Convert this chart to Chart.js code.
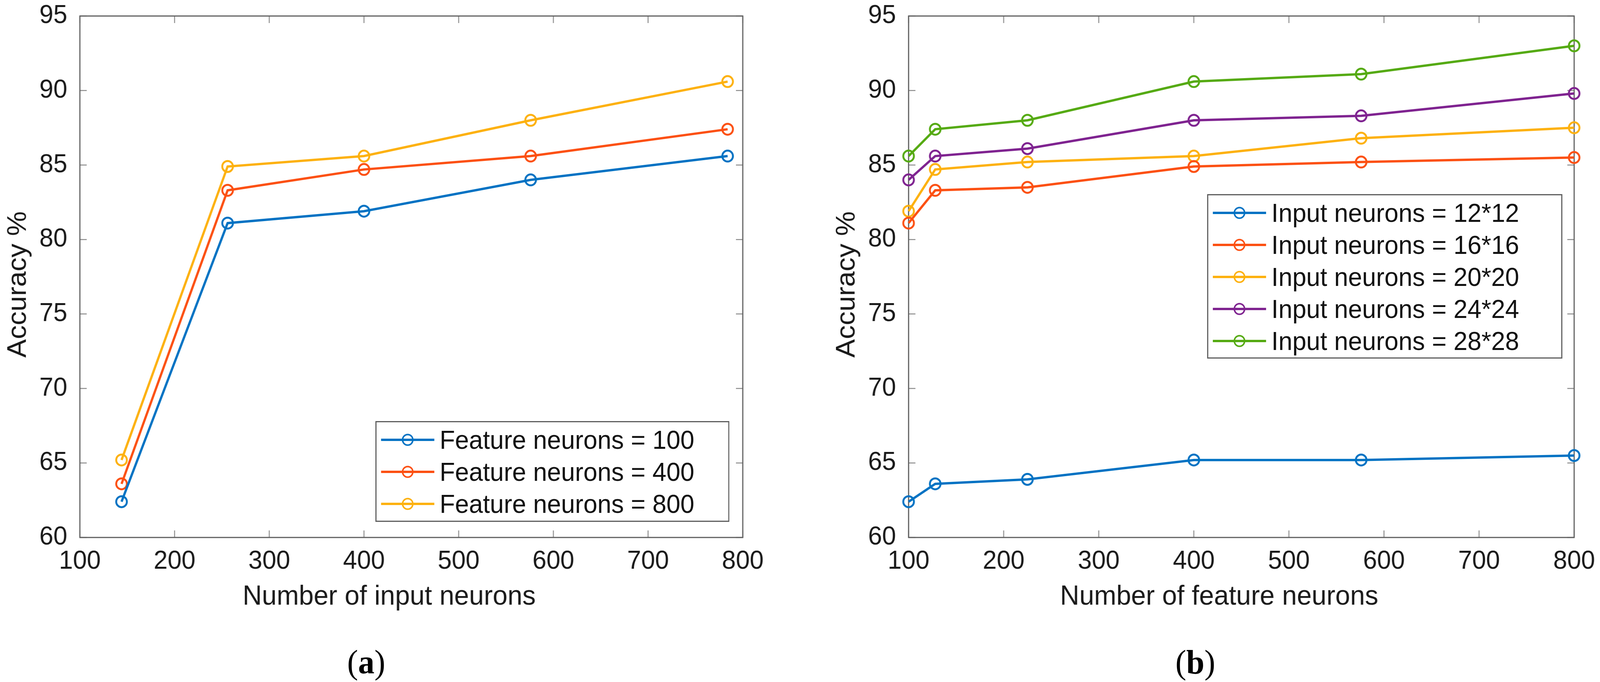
<!DOCTYPE html>
<html>
<head>
<meta charset="utf-8">
<title>Accuracy vs neurons</title>
<script src="https://cdn.jsdelivr.net/npm/chart.js@4.4.1/dist/chart.umd.min.js"></script>
<style>
	body {
		margin: 0;
		overflow: hidden;
		background: #fff;
		font-family: "Liberation Sans", Arial, sans-serif;
	}
	#figure {
		position: relative;
		width: 4207px;
		height: 1746px;
		transform-origin: 0 0;
	}
	canvas {
		position: absolute;
		top: 0;
	}
	#chartA {
		left: 0;
	}
	#chartB {
		left: 2179px;
	}
	.legend {
		position: absolute;
		box-sizing: border-box;
		border: 3px solid #5e5e5e;
		background: #fff;
		padding-top: 4px;
		z-index: 2;
	}
	#legendA {
		left: 987px;
		top: 1078px;
		width: 931px;
		height: 258px;
	}
	#legendB {
		left: 3174px;
		top: 497px;
		width: 934px;
		height: 421px;
	}
	.legend .row {
		display: flex;
		align-items: center;
		height: 82px;
	}
	.legend .key {
		position: relative;
		width: 140px;
		height: 6px;
		margin-left: 12px;
	}
	.legend .dot {
		position: absolute;
		left: 70px;
		top: 50%;
		box-sizing: border-box;
		width: 31px;
		height: 31px;
		border: 4.5px solid;
		border-radius: 50%;
		transform: translate( -50%, -50% );
	}
	.legend .txt {
		margin-left: 14px;
		font-size: 66px;
		line-height: 1;
		color: #111;
		white-space: nowrap;
	}
	.caption {
		position: absolute;
		top: 1652px;
		width: 300px;
		text-align: center;
		font-family: "Liberation Serif", "Times New Roman", serif;
		font-size: 86px;
		line-height: 1;
		color: #000;
	}
</style>
</head>
<body>
<div id="figure">
	<canvas id="chartA" width="2080" height="1600"></canvas>
	<canvas id="chartB" width="2028" height="1600"></canvas>
	<div class="legend" id="legendA"></div>
	<div class="legend" id="legendB"></div>
	<div class="caption" style="left: 813px;">(<b>a</b>)</div>
	<div class="caption" style="left: 2993px;">(<b>b</b>)</div>
</div>

<script>
// Panel (a): x = number of input neurons
const inputNeurons = [ 144, 256, 400, 576, 784 ];
const accFeature100 = [ 62.4, 81.1, 81.9, 84.0, 85.6 ];
const accFeature400 = [ 63.6, 83.3, 84.7, 85.6, 87.4 ];
const accFeature800 = [ 65.2, 84.9, 85.6, 88.0, 90.6 ];

// Panel (b): x = number of feature neurons
const featureNeurons = [ 100, 128, 225, 400, 576, 800 ];
const accInput12 = [ 62.4, 63.6, 63.9, 65.2, 65.2, 65.5 ];
const accInput16 = [ 81.1, 83.3, 83.5, 84.9, 85.2, 85.5 ];
const accInput20 = [ 81.9, 84.7, 85.2, 85.6, 86.8, 87.5 ];
const accInput24 = [ 84.0, 85.6, 86.1, 88.0, 88.3, 89.8 ];
const accInput28 = [ 85.6, 87.4, 88.0, 90.6, 91.1, 93.0 ];

// Axis ticks
const xTickValues = [ 100, 200, 300, 400, 500, 600, 700, 800 ];
const yTickValues = [ 60, 65, 70, 75, 80, 85, 90, 95 ];

const colors = {
	blue: '#0072C3',
	orange: '#FC5012',
	yellow: '#FDB10F',
	purple: '#7F2390',
	green: '#55AA12',
};

// The figure is laid out at 4207px wide; squeeze it into the real viewport.
const figureEl = document.getElementById( 'figure' );
const fitX = Math.min( 1, window.innerWidth / 4207 );
figureEl.style.transform = 'scaleX(' + fitX + ')';

Chart.defaults.font.family = '"Liberation Sans", Arial, sans-serif';
Chart.defaults.color = '#1a1a1a';

// MATLAB style box with inward ticks on all four sides
const axesBox = {
	id: 'axesBox',
	beforeDatasetsDraw( chart ) {
		const { ctx, chartArea: area, scales } = chart;
		const len = 18;
		ctx.save();
		ctx.strokeStyle = '#8c8c8c';
		ctx.lineWidth = 2.5;
		ctx.beginPath();
		scales.x.ticks.forEach( ( tick ) => {
			const px = scales.x.getPixelForValue( tick.value );
			ctx.moveTo( px, area.bottom );
			ctx.lineTo( px, area.bottom - len );
			ctx.moveTo( px, area.top );
			ctx.lineTo( px, area.top + len );
		} );
		scales.y.ticks.forEach( ( tick ) => {
			const py = scales.y.getPixelForValue( tick.value );
			ctx.moveTo( area.left, py );
			ctx.lineTo( area.left + len, py );
			ctx.moveTo( area.right, py );
			ctx.lineTo( area.right - len, py );
		} );
		ctx.stroke();
		ctx.strokeStyle = '#5e5e5e';
		ctx.lineWidth = 3;
		ctx.strokeRect( area.left, area.top, area.width, area.height );
		ctx.restore();
	},
};

// keep the plot box where the layout padding puts it
function noOverflow( scale ) {
	scale.paddingTop = 0;
	scale.paddingBottom = 0;
	scale.paddingLeft = 0;
	scale.paddingRight = 0;
}

function makeDataset( label, xs, ys, color ) {
	return {
		label,
		data: xs.map( ( x, i ) => ( { x, y: ys[ i ] } ) ),
		borderColor: color,
		backgroundColor: color,
		borderWidth: 6,
		pointStyle: 'circle',
		pointRadius: 14,
		pointBorderWidth: 5,
		pointBackgroundColor: 'rgba(0,0,0,0)',
		pointBorderColor: color,
		tension: 0,
		clip: false,
	};
}

function makeOptions( xTitle, padRight ) {
	return {
		responsive: false,
		animation: false,
		devicePixelRatio: 1,
		layout: {
			padding: { top: 41, right: padRight, bottom: 0, left: 0 },
		},
		plugins: {
			legend: { display: false },
			tooltip: { enabled: false },
		},
		scales: {
			x: {
				type: 'linear',
				min: 100,
				max: 800,
				afterBuildTicks: ( scale ) => {
					scale.ticks = xTickValues.map( ( v ) => ( { value: v } ) );
				},
				afterFit: ( scale ) => {
					scale.height = 224;
					noOverflow( scale );
				},
				grid: { display: false, drawTicks: false },
				border: { display: false },
				ticks: {
					padding: 22,
					maxRotation: 0,
					autoSkip: false,
					font: { size: 66 },
				},
				title: {
					display: true,
					// trailing spaces nudge the label left, as in the original
					text: xTitle + '      ',
					font: { size: 70 },
					padding: { top: 0, bottom: 29 },
				},
			},
			y: {
				type: 'linear',
				min: 60,
				max: 95,
				afterBuildTicks: ( scale ) => {
					scale.ticks = yTickValues.map( ( v ) => ( { value: v } ) );
				},
				afterFit: ( scale ) => {
					scale.width = 210;
					noOverflow( scale );
				},
				grid: { display: false, drawTicks: false },
				border: { display: false },
				ticks: {
					padding: 33,
					font: { size: 66 },
				},
				title: {
					display: true,
					text: 'Accuracy %  ',
					font: { size: 71 },
					padding: { top: 6, bottom: 0 },
				},
			},
		},
	};
}

function buildLegend( chart, el ) {
	chart.data.datasets.forEach( ( ds ) => {
		const row = document.createElement( 'div' );
		row.className = 'row';
		const key = document.createElement( 'div' );
		key.className = 'key';
		key.style.background = ds.borderColor;
		const dot = document.createElement( 'div' );
		dot.className = 'dot';
		dot.style.borderColor = ds.borderColor;
		key.appendChild( dot );
		const txt = document.createElement( 'span' );
		txt.className = 'txt';
		txt.textContent = ds.label;
		row.appendChild( key );
		row.appendChild( txt );
		el.appendChild( row );
	} );
}

const chartA = new Chart( document.getElementById( 'chartA' ), {
	type: 'line',
	data: {
		datasets: [
			makeDataset( 'Feature neurons = 100', inputNeurons, accFeature100, colors.blue ),
			makeDataset( 'Feature neurons = 400', inputNeurons, accFeature400, colors.orange ),
			makeDataset( 'Feature neurons = 800', inputNeurons, accFeature800, colors.yellow ),
		],
	},
	options: makeOptions( 'Number of input neurons', 127 ),
	plugins: [ axesBox ],
} );

const chartB = new Chart( document.getElementById( 'chartB' ), {
	type: 'line',
	data: {
		datasets: [
			makeDataset( 'Input neurons = 12*12', featureNeurons, accInput12, colors.blue ),
			makeDataset( 'Input neurons = 16*16', featureNeurons, accInput16, colors.orange ),
			makeDataset( 'Input neurons = 20*20', featureNeurons, accInput20, colors.yellow ),
			makeDataset( 'Input neurons = 24*24', featureNeurons, accInput24, colors.purple ),
			makeDataset( 'Input neurons = 28*28', featureNeurons, accInput28, colors.green ),
		],
	},
	options: makeOptions( 'Number of feature neurons', 68 ),
	plugins: [ axesBox ],
} );

buildLegend( chartA, document.getElementById( 'legendA' ) );
buildLegend( chartB, document.getElementById( 'legendB' ) );
</script>
</body>
</html>
